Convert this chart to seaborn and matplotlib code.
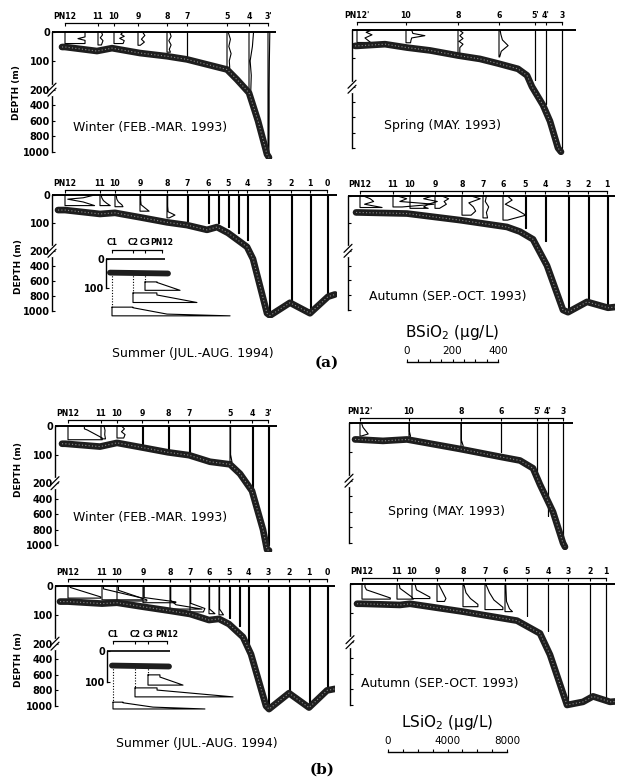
import numpy as np
import pandas as pd
import matplotlib
matplotlib.use("Agg")
import matplotlib.pyplot as plt
import seaborn as sns
from matplotlib.lines import Line2D
from matplotlib.transforms import IdentityTransform

sns.set_style("ticks")
plt.rcParams["font.family"] = ["DejaVu Sans"]
plt.rcParams.update({"axes.linewidth": 1.0, "text.color": "black", "axes.edgecolor": "black",
                     "xtick.color": "black", "ytick.color": "black", "axes.labelcolor": "black"})

# ---------------- data ----------------
# Station names, along-section distance (km), bottom topography and profiles
# (depth in m, concentration in ug/L)

# (a) BSiO2 -- Winter
aW_names = ["PN12", "11", "10", "9", "8", "7", "5", "4", "3'"]
aW_dist = [13, 46, 62, 86, 115, 135, 175, 197, 216]
aW_topo_x = [10, 13, 45, 60, 88, 115, 135, 175, 185, 197, 206, 215, 217]
aW_topo_d = [52, 52, 66, 56, 73, 84, 95, 130, 165, 240, 600, 1030, 1070]
aW_prof_d = [[0, 17, 23, 29, 40], [0, 10, 20, 30, 45], [0, 8, 15, 22, 30, 40],
             [0, 12, 25, 35, 46], [0, 15, 30, 45, 60, 70], [0, 84],
             [0, 25, 50, 75, 100, 123], [0, 50, 100, 150, 200, 280],
             [0, 100, 200, 500, 1000]]
aW_prof_c = [[88, 88, 57, 88, 88], [15, 20, 10, 22, 15], [40, 30, 45, 25, 45, 40],
             [20, 30, 15, 28, 10], [12, 18, 8, 18, 10, 15], [2, 2],
             [5, 15, 8, 18, 10, 12], [20, 15, 5, 10, 8, 5], [8, 6, 5, 5, 4]]

# (a) BSiO2 -- Spring
aSp_names = ["PN12'", "10", "8", "6", "5'", "4'", "3"]
aSp_dist = [5, 54, 106, 147, 183, 194, 210]
aSp_topo_x = [3, 5, 33, 55, 78, 106, 128, 146, 166, 175, 180, 191, 198, 206, 209]
aSp_topo_d = [56, 56, 50, 62, 72, 90, 102, 118, 137, 160, 200, 440, 650, 1000, 1050]
aSp_prof_d = [[0, 8, 17, 28, 44], [0, 12, 20, 28, 36, 45],
              [0, 10, 20, 30, 40, 50, 62, 84], [0, 15, 35, 55, 75, 95],
              [0, 175], [0, 420], [0, 1000]]
aSp_prof_c = [[66, 40, 66, 35, 60], [25, 30, 83, 25, 22, 20],
              [5, 22, 8, 22, 5, 22, 8, 8], [5, 8, 15, 40, 10, 3],
              [2, 2], [2, 2], [2, 2]]

# (a) BSiO2 -- Summer
aSu_names = ["PN12", "11", "10", "9", "8", "7", "6", "", "5", "", "4", "3", "2", "1", "0"]
aSu_dist = [13, 48, 63, 88, 115, 135, 156, 166, 176, 186, 195, 217, 239, 258, 275]
aSu_topo_x = [6, 13, 48, 63, 88, 115, 135, 155, 165, 176, 195, 201, 215, 218, 238, 258, 276, 283]
aSu_topo_d = [54, 54, 68, 64, 80, 98, 108, 125, 115, 136, 186, 308, 1030, 1060, 890, 1030, 810, 780]
aSu_prof_d = [[0, 10, 15, 25, 38], [0, 10, 20, 30, 38], [0, 15, 25, 35, 42],
              [0, 20, 35, 45, 58], [0, 40, 60, 72, 82], [0, 92], [0, 102], [0, 100],
              [0, 115], [0, 136], [0, 160], [0, 1000], [0, 870], [0, 1000], [0, 800]]
aSu_prof_c = [[130, 80, 12, 80, 130], [5, 8, 15, 30, 45], [5, 8, 15, 30, 35],
              [3, 3, 5, 20, 40], [3, 3, 5, 35, 10], [3, 3], [3, 3], [3, 3],
              [3, 3], [3, 3], [3, 3], [3, 3], [3, 3], [3, 3], [3, 3]]

# (a) BSiO2 -- Summer coastal inset
aIn_names = ["C1", "C2", "C3", "PN12"]
aIn_dist = [6, 27, 39, 56]
aIn_topo_x = [4, 62]
aIn_topo_d = [47, 50]
aIn_prof_d = [[166, 168, 190, 196], [117, 124, 150], [79, 81, 108]]
aIn_prof_c = [[92, 92, 242, 519], [105, 105, 281], [53, 53, 154]]

# (a) BSiO2 -- Autumn
aAu_names = ["PN12", "11", "10", "9", "8", "7", "6", "5", "4", "3", "2", "1"]
aAu_dist = [12, 45, 62, 87, 114, 135, 155, 177, 197, 220, 240, 259]
aAu_topo_x = [8, 10, 59, 112, 159, 172, 185, 199, 215, 220, 239, 260, 267]
aAu_topo_d = [60, 60, 64, 88, 113, 130, 158, 400, 1000, 1030, 890, 970, 960]
aAu_prof_d = [[0, 10, 20, 30, 42], [0, 10, 20, 30, 40], [0, 10, 20, 30, 40, 45],
              [0, 10, 20, 30, 45], [0, 10, 25, 40, 55, 70], [0, 20, 40, 60, 80],
              [0, 15, 30, 50, 70, 88], [0, 115], [0, 165], [0, 1000], [0, 880], [0, 950]]
aAu_prof_c = [[15, 45, 60, 20, 97], [20, 60, 30, 180, 40], [100, 60, 120, 80, 60, 80],
              [30, 60, 40, 50, 20], [40, 80, 30, 50, 60, 40], [15, 10, 25, 15, 20],
              [20, 40, 10, 60, 100, 20], [3, 3], [3, 3], [3, 3], [3, 3], [3, 3]]

# (b) LSiO2 -- Winter
bW_names = ["PN12", "11", "10", "9", "8", "7", "5", "4", "3'"]
bW_dist = [13, 46, 62, 87, 113, 134, 175, 197, 213]
bW_topo_x = [7, 10, 45, 62, 87, 113, 134, 155, 175, 185, 197, 208, 212, 214]
bW_topo_d = [62, 62, 72, 59, 75, 92, 102, 125, 134, 167, 300, 800, 1060, 1070]
bW_prof_d = [[0, 10, 14, 42, 48], [0, 15, 30, 45], [0, 10, 20, 30, 42], [0, 63],
             [0, 85], [0, 95], [0, 100, 125], [0, 290], [0, 1000]]
bW_prof_c = [[1100, 1100, 1300, 2300, 2300], [200, 270, 250, 300], [300, 500, 300, 540, 450],
             [40, 40], [40, 40], [40, 40], [40, 40, 130], [40, 40], [40, 40]]

# (b) LSiO2 -- Spring
bSp_names = ["PN12'", "10", "8", "6", "5'", "4'", "3"]
bSp_dist = [11, 60, 112, 152, 188, 199, 214]
bSp_topo_x = [6, 8, 34, 58, 111, 151, 171, 184, 191, 204, 214, 216]
bSp_topo_d = [57, 57, 62, 57, 90, 117, 130, 157, 250, 600, 1000, 1050]
bSp_prof_d = [[0, 15, 38, 45], [0, 30, 45, 52], [0, 60, 80, 90], [0, 100],
              [0, 166], [0, 650], [0, 1000]]
bSp_prof_c = [[100, 200, 550, 100], [30, 30, 100, 50], [30, 30, 150, 50], [30, 30],
              [30, 30], [30, 30], [30, 30]]

# (b) LSiO2 -- Summer
bSu_names = ["PN12", "11", "10", "9", "8", "7", "6", "", "5", "", "4", "3", "2", "1", "0"]
bSu_dist = [13, 47, 62, 88, 115, 135, 154, 164, 174, 184, 193, 213, 234, 254, 272]
bSu_topo_x = [5, 13, 47, 62, 88, 115, 135, 154, 164, 174, 188, 196, 211, 214, 234, 254, 272, 280]
bSu_topo_d = [54, 54, 61, 58, 72, 86, 97, 118, 114, 132, 177, 335, 1000, 1040, 835, 1020, 800, 780]
bSu_prof_d = [[0, 5, 38, 42], [0, 10, 42, 48], [0, 15, 48, 52], [0, 40, 55, 58],
              [0, 50, 65, 80], [0, 60, 78, 90], [0, 80, 96], [0, 80, 100], [0, 112],
              [0, 138], [0, 240], [0, 1000], [0, 810], [0, 1000], [0, 800]]
bSu_prof_c = [[150, 150, 2200, 2200], [100, 100, 2700, 2700], [100, 100, 2000, 2000],
              [80, 80, 2200, 2200], [50, 50, 400, 2150], [50, 50, 1000, 900],
              [40, 40, 400], [40, 40, 300], [40, 40], [40, 40], [40, 40], [40, 40],
              [40, 40], [40, 40], [40, 40]]

# (b) LSiO2 -- Summer coastal inset
bIn_names = ["C1", "C2", "C3", "PN12"]
bIn_dist = [6, 28, 41, 60]
bIn_topo_x = [5, 62]
bIn_topo_d = [47, 50]
bIn_prof_d = [[165, 167, 181, 187], [119, 126, 148], [77, 84, 110]]
bIn_prof_c = [[670, 670, 2680, 6170], [1480, 1480, 6580], [800, 800, 2350]]

# (b) LSiO2 -- Autumn
bAu_names = ["PN12", "11", "10", "9", "8", "7", "6", "5", "4", "3", "2", "1"]
bAu_dist = [12, 47, 62, 87, 113, 135, 155, 177, 198, 218, 240, 256]
bAu_topo_x = [7, 12, 50, 60, 113, 167, 190, 200, 217, 233, 243, 260, 265]
bAu_topo_d = [68, 68, 72, 68, 95, 126, 170, 360, 1000, 960, 890, 960, 955]
bAu_prof_d = [[0, 10, 20, 48, 52], [0, 15, 45, 52], [0, 20, 45, 50], [0, 20, 50, 60],
              [0, 30, 50, 70, 78], [0, 30, 55, 80, 88], [0, 60, 85, 95], [0, 110],
              [0, 160], [0, 1000], [0, 900], [0, 950]]
bAu_prof_c = [[200, 200, 300, 1900, 1900], [150, 200, 1000, 1100], [200, 300, 1200, 1200],
              [100, 300, 600, 500], [50, 200, 500, 1000, 1000], [50, 300, 600, 1200, 1200],
              [50, 100, 300, 500], [30, 30], [30, 30], [30, 30], [30, 30], [30, 30]]

depth_ticks = [0, 100, 200, 400, 600, 800, 1000]
bsio2_ticks = [0, 200, 400]
lsio2_ticks = [0, 4000, 8000]

# ---------------- styling / geometry ----------------
W, H = 617, 778
fig = plt.figure(figsize=(W / 100, H / 100), dpi=100)
fig.patch.set_facecolor("white")

K = 0.27  # compression of depths below 200 m
BS = 0.2275  # km of section per ug/L (BSiO2 profiles)
LS = 0.0149  # km of section per ug/L (LSiO2 profiles)
YTOP, YBOT = -4, 1090


def fwd(d):
    d = np.asarray(d, dtype=float)
    return np.where(d <= 200, d, 200 + (d - 200) * K)


def inv(t):
    t = np.asarray(t, dtype=float)
    return np.where(t <= 200, t, 200 + (t - 200) / K)


def add_axes_px(left, right, top, bot):
    return fig.add_axes([left / W, 1 - bot / H, (right - left) / W, (bot - top) / H])


def profile_frame(dist, pdepth, pconc, scale):
    rows = []
    for i, (x0, d, c) in enumerate(zip(dist, pdepth, pconc)):
        xs = [x0] + [x0 + ci * scale for ci in c] + [x0, x0]
        ys = [d[0]] + list(d) + [d[-1], d[0]]
        for k, (xx, yy) in enumerate(zip(xs, ys)):
            rows.append({"st": i, "k": k, "x": xx, "depth": yy})
    return pd.DataFrame(rows)


def break_mark(ax, depth=200):
    px, py = ax.transData.transform((ax.get_xlim()[0], depth))
    fig.add_artist(Line2D([px, px], [py - 4, py + 4], color="white", lw=2.5,
                          transform=IdentityTransform(), zorder=5))
    for off in (-2.5, 2.5):
        fig.add_artist(Line2D([px - 4, px + 4], [py + off - 4, py + off + 4], color="black",
                              lw=0.9, transform=IdentityTransform(), zorder=6))


def draw_panel(geom, names, dist, topo_x, topo_d, pdepth, pconc, scale, ylabels):
    left, right, y0, y1000, top_off = geom
    s = (y1000 - y0) / float(fwd(1000))
    ax = add_axes_px(left, right, y0 + s * YTOP, y0 + s * float(fwd(YBOT)))
    ax.set_facecolor("none")
    ax.set_yscale("function", functions=(fwd, inv))
    df = profile_frame(dist, pdepth, pconc, scale)
    sns.lineplot(data=df, x="x", y="depth", units="st", estimator=None, sort=False,
                 color="black", lw=0.8, ax=ax, legend=False)
    sns.lineplot(x=topo_x, y=topo_d, sort=False, estimator=None, color="#1e1e1e",
                 lw=4.8, ax=ax, solid_capstyle="round")
    sns.lineplot(x=topo_x, y=topo_d, sort=False, estimator=None, color="#8a8a8a",
                 lw=0.8, ls=(0, (1, 2)), ax=ax)
    ax.axhline(0, color="black", lw=1.4)
    ax.set_xlim(0, right - left)
    ax.set_ylim(YBOT, YTOP)
    ax.set_xlabel("")
    ax.set_ylabel("")
    ax.spines["right"].set_visible(False)
    ax.spines["bottom"].set_visible(False)
    ax.spines["left"].set_bounds(0, 1000)
    ax.spines["top"].set_position(("outward", top_off * 0.72))
    ax.spines["top"].set_bounds(dist[0], dist[-1])
    ax.spines["top"].set_linewidth(0.9)
    ax.xaxis.set_ticks_position("top")
    ax.set_xticks(dist)
    ax.set_xticklabels(names, fontsize=5.6, fontweight="bold")
    ax.tick_params(axis="x", direction="in", length=2.5, width=0.8, pad=1.5)
    ax.set_yticks(depth_ticks)
    if ylabels:
        ax.set_yticklabels([str(t) for t in depth_ticks], fontsize=7, fontweight="bold")
    else:
        ax.set_yticklabels([])
    ax.tick_params(axis="y", direction="in", length=2.5, width=0.8, pad=1.5)
    ax.minorticks_off()
    break_mark(ax)
    return ax


def draw_inset(geom, names, dist, topo_x, topo_d, pdepth, pconc, scale):
    left, y0, pxm = geom
    ax = add_axes_px(left, left + 140, y0 - 4 * pxm, y0 + 215 * pxm)
    ax.set_facecolor("none")
    df = profile_frame(dist, pdepth, pconc, scale)
    sns.lineplot(data=df, x="x", y="depth", units="st", estimator=None, sort=False,
                 color="black", lw=0.8, ax=ax, legend=False)
    ax.vlines(dist[:len(pdepth)], topo_d[0], [d[0] for d in pdepth], colors="black",
              lw=0.8, linestyles=(0, (1, 1.5)))
    sns.lineplot(x=topo_x, y=topo_d, sort=False, estimator=None, color="#1e1e1e",
                 lw=4.2, ax=ax)
    ax.hlines(0, 0, dist[-1] + 3, colors="black", lw=1.2)
    ax.set_xlim(0, 140)
    ax.set_ylim(215, -4)
    ax.set_xlabel("")
    ax.set_ylabel("")
    ax.spines["right"].set_visible(False)
    ax.spines["bottom"].set_visible(False)
    ax.spines["left"].set_bounds(0, 100)
    ax.spines["top"].set_position(("outward", 6))
    ax.spines["top"].set_bounds(dist[0], dist[-1])
    ax.spines["top"].set_linewidth(0.9)
    ax.xaxis.set_ticks_position("top")
    ax.set_xticks(dist)
    ax.set_xticklabels(names, fontsize=5.6, fontweight="bold")
    ax.tick_params(axis="x", direction="in", length=2.5, width=0.8, pad=1.5)
    ax.set_yticks([0, 100])
    ax.set_yticklabels(["0", "100"], fontsize=7, fontweight="bold")
    ax.tick_params(axis="y", direction="in", length=2.5, width=0.8, pad=1.5)
    return ax


def scale_bar(x0, x1, ybar, vmax, major, step, label, label_y):
    ax = add_axes_px(x0, x1, ybar - 4, ybar)
    ax.set_facecolor("none")
    ax.set_xlim(0, vmax)
    ax.set_yticks([])
    for sp in ("top", "left", "right"):
        ax.spines[sp].set_visible(False)
    ax.spines["bottom"].set_linewidth(1.0)
    ax.set_xticks(major)
    ax.set_xticklabels([str(m) for m in major], fontsize=7.5)
    ax.set_xticks(np.arange(0, vmax + step / 2, step), minor=True)
    ax.tick_params(axis="x", which="both", direction="in", bottom=True, top=False,
                   labelbottom=False, labeltop=True, length=2.5, width=0.8, pad=1.5)
    fig.text((x0 + x1) / 2 / W, 1 - label_y / H, label, ha="center", va="center",
             fontsize=11)


def ftext(x, y, s, **kw):
    fig.text(x / W, 1 - y / H, s, ha="center", va="center", **kw)


# ---------------- panels ----------------
draw_panel((52, 276, 32, 152, 8), aW_names, aW_dist, aW_topo_x, aW_topo_d, aW_prof_d, aW_prof_c, BS, True)
draw_panel((352, 576, 30, 148, 7), aSp_names, aSp_dist, aSp_topo_x, aSp_topo_d, aSp_prof_d, aSp_prof_c, BS, False)
draw_panel((52, 337, 195, 311, 4), aSu_names, aSu_dist, aSu_topo_x, aSu_topo_d, aSu_prof_d, aSu_prof_c, BS, True)
draw_panel((348, 615, 196, 310, 4), aAu_names, aAu_dist, aAu_topo_x, aAu_topo_d, aAu_prof_d, aAu_prof_c, BS, False)
draw_inset((106, 259, 0.29), aIn_names, aIn_dist, aIn_topo_x, aIn_topo_d, aIn_prof_d, aIn_prof_c, BS)

draw_panel((55, 277, 426, 545, 5), bW_names, bW_dist, bW_topo_x, bW_topo_d, bW_prof_d, bW_prof_c, LS, True)
draw_panel((349, 573, 423, 543, 4), bSp_names, bSp_dist, bSp_topo_x, bSp_topo_d, bSp_prof_d, bSp_prof_c, LS, False)
draw_panel((55, 335, 586, 706, 6), bSu_names, bSu_dist, bSu_topo_x, bSu_topo_d, bSu_prof_d, bSu_prof_c, LS, True)
draw_panel((350, 615, 584, 705, 5), bAu_names, bAu_dist, bAu_topo_x, bAu_topo_d, bAu_prof_d, bAu_prof_c, LS, False)
draw_inset((107, 651, 0.31), bIn_names, bIn_dist, bIn_topo_x, bIn_topo_d, bIn_prof_d, bIn_prof_c, LS)

# season labels
ftext(150, 127, "Winter (FEB.-MAR. 1993)", fontsize=9)
ftext(443, 125, "Spring (MAY. 1993)", fontsize=9)
ftext(193, 353, "Summer (JUL.-AUG. 1994)", fontsize=9)
ftext(448, 297, "Autumn (SEP.-OCT. 1993)", fontsize=9)
ftext(150, 517, "Winter (FEB.-MAR. 1993)", fontsize=9)
ftext(447, 512, "Spring (MAY. 1993)", fontsize=9)
ftext(197, 743, "Summer (JUL.-AUG. 1994)", fontsize=9)
ftext(440, 683, "Autumn (SEP.-OCT. 1993)", fontsize=9)

# depth axis titles
for (x, y) in [(17, 93), (18, 267), (18, 470), (18, 660)]:
    ftext(x, y, "DEPTH (m)", fontsize=6.5, fontweight="bold", rotation=90)

# concentration scale bars
scale_bar(407, 498, 362, 400, bsio2_ticks, 50, "BSiO$_2$ (μg/L)", 332)
scale_bar(388, 507, 752, 8000, lsio2_ticks, 1000, "LSiO$_2$ (μg/L)", 722)

# panel letters
ftext(327, 363, "(a)", fontsize=11, fontweight="bold", family="DejaVu Serif")
ftext(322, 770, "(b)", fontsize=11, fontweight="bold", family="DejaVu Serif")

fig.savefig("out.png", dpi=100, facecolor="white")
